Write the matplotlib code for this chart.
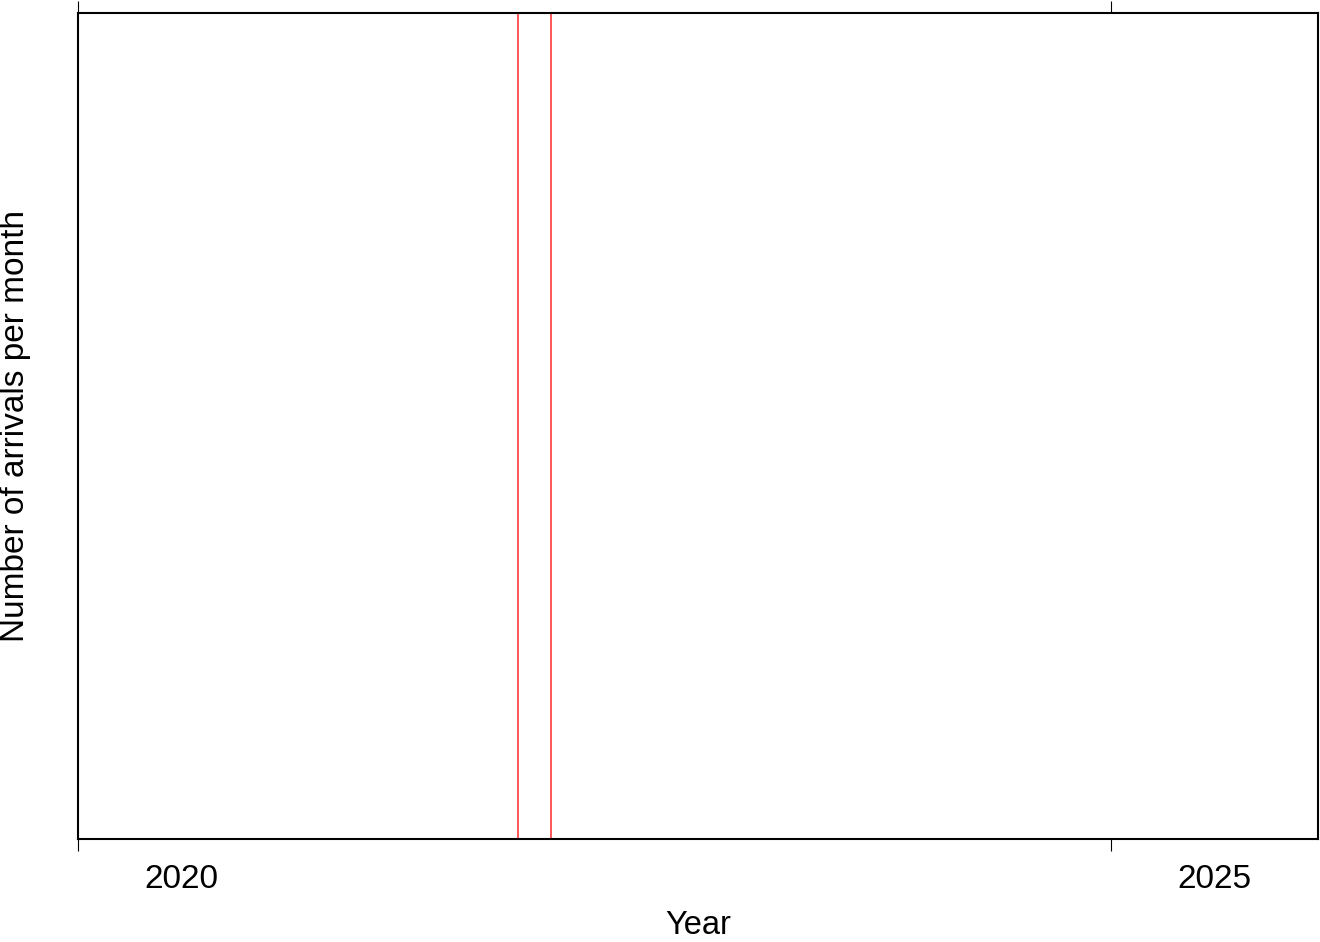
import matplotlib
matplotlib.use("Agg")
import matplotlib.pyplot as plt
from matplotlib.ticker import FixedLocator, NullFormatter, FixedFormatter

plt.rcParams['font.family'] = ['Liberation Sans', 'DejaVu Sans']

# Data
x_range = [2020, 2026]
tick_years = [2020, 2025]
label_positions = [2020.5, 2025.5]
tick_labels = ["2020", "2025"]
event_lines = [2022.127, 2022.287]

fig = plt.figure(figsize=(13.2, 9.42), dpi=100)
ax = fig.add_axes([78/1320, 1 - 839/942, (1318-78)/1320, (839-12.5)/942])

for xv in event_lines:
    ax.axvline(xv, color='#ff2a2a', lw=1.1)

ax.set_xlim(*x_range)
ax.set_ylim(0, 1)

ax.xaxis.set_major_locator(FixedLocator(tick_years))
ax.xaxis.set_major_formatter(NullFormatter())
ax.xaxis.set_minor_locator(FixedLocator(label_positions))
ax.xaxis.set_minor_formatter(FixedFormatter(tick_labels))
ax.tick_params(axis='x', which='major', direction='out', length=8.5, width=0.8,
               top=True, bottom=True, color='black')
ax.tick_params(axis='x', which='minor', length=0, labelsize=24, pad=18)
ax.set_yticks([])

for s in ax.spines.values():
    s.set_linewidth(1.5)
    s.set_color('black')

ax.set_xlabel("Year", fontsize=23.5, labelpad=11)
ax.set_ylabel("Number of arrivals per month", fontsize=24)
ax.yaxis.set_label_coords(-0.0375, 0.5)

fig.savefig("out.png", dpi=100)
